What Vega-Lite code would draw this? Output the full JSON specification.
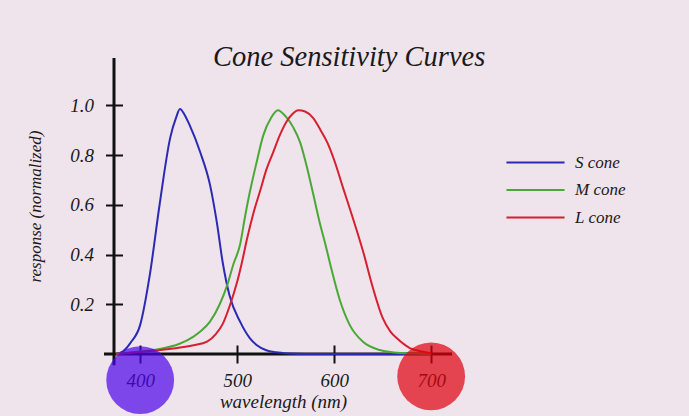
{
  "$schema": "https://vega.github.io/schema/vega-lite/v6.json",
  "autosize": {"type": "none"},
  "padding": {"left": 114, "top": 58, "right": 237, "bottom": 62},
  "width": 338,
  "height": 296,
  "background": "#efe3ec",
  "config": {
    "view": {"stroke": null},
    "font": "Liberation Serif"
  },
  "title": {
    "text": "Cone Sensitivity Curves",
    "anchor": "start",
    "frame": "group",
    "dx": 99,
    "dy": 38,
    "offset": 0,
    "baseline": "alphabetic",
    "font": "Liberation Serif",
    "fontStyle": "italic",
    "fontWeight": "normal",
    "fontSize": 28.5,
    "color": "#1a1a1a"
  },
  "datasets": {
    "curves": [
      {"wavelength": 375, "response": 0.0, "cone": "S cone"},
      {"wavelength": 382, "response": 0.01, "cone": "S cone"},
      {"wavelength": 390, "response": 0.045, "cone": "S cone"},
      {"wavelength": 400, "response": 0.117, "cone": "S cone"},
      {"wavelength": 410, "response": 0.32, "cone": "S cone"},
      {"wavelength": 420, "response": 0.6, "cone": "S cone"},
      {"wavelength": 431, "response": 0.87, "cone": "S cone"},
      {"wavelength": 437, "response": 0.95, "cone": "S cone"},
      {"wavelength": 441, "response": 0.985, "cone": "S cone"},
      {"wavelength": 446, "response": 0.96, "cone": "S cone"},
      {"wavelength": 451, "response": 0.92, "cone": "S cone"},
      {"wavelength": 462, "response": 0.81, "cone": "S cone"},
      {"wavelength": 472, "response": 0.68, "cone": "S cone"},
      {"wavelength": 479, "response": 0.53, "cone": "S cone"},
      {"wavelength": 485, "response": 0.37, "cone": "S cone"},
      {"wavelength": 492, "response": 0.237, "cone": "S cone"},
      {"wavelength": 503, "response": 0.13, "cone": "S cone"},
      {"wavelength": 513, "response": 0.064, "cone": "S cone"},
      {"wavelength": 520, "response": 0.036, "cone": "S cone"},
      {"wavelength": 530, "response": 0.015, "cone": "S cone"},
      {"wavelength": 540, "response": 0.007, "cone": "S cone"},
      {"wavelength": 554, "response": 0.002, "cone": "S cone"},
      {"wavelength": 570, "response": 0.0, "cone": "S cone"},
      {"wavelength": 620, "response": 0.0, "cone": "S cone"},
      {"wavelength": 700, "response": 0.0, "cone": "S cone"},

      {"wavelength": 375, "response": 0.0, "cone": "M cone"},
      {"wavelength": 400, "response": 0.01, "cone": "M cone"},
      {"wavelength": 420, "response": 0.02, "cone": "M cone"},
      {"wavelength": 440, "response": 0.04, "cone": "M cone"},
      {"wavelength": 455, "response": 0.07, "cone": "M cone"},
      {"wavelength": 462, "response": 0.09, "cone": "M cone"},
      {"wavelength": 472, "response": 0.13, "cone": "M cone"},
      {"wavelength": 482, "response": 0.2, "cone": "M cone"},
      {"wavelength": 490, "response": 0.28, "cone": "M cone"},
      {"wavelength": 496, "response": 0.36, "cone": "M cone"},
      {"wavelength": 503, "response": 0.44, "cone": "M cone"},
      {"wavelength": 508, "response": 0.55, "cone": "M cone"},
      {"wavelength": 513, "response": 0.65, "cone": "M cone"},
      {"wavelength": 520, "response": 0.77, "cone": "M cone"},
      {"wavelength": 527, "response": 0.88, "cone": "M cone"},
      {"wavelength": 535, "response": 0.95, "cone": "M cone"},
      {"wavelength": 542, "response": 0.98, "cone": "M cone"},
      {"wavelength": 550, "response": 0.955, "cone": "M cone"},
      {"wavelength": 558, "response": 0.91, "cone": "M cone"},
      {"wavelength": 565, "response": 0.85, "cone": "M cone"},
      {"wavelength": 572, "response": 0.75, "cone": "M cone"},
      {"wavelength": 578, "response": 0.65, "cone": "M cone"},
      {"wavelength": 585, "response": 0.53, "cone": "M cone"},
      {"wavelength": 591, "response": 0.44, "cone": "M cone"},
      {"wavelength": 596, "response": 0.36, "cone": "M cone"},
      {"wavelength": 606, "response": 0.215, "cone": "M cone"},
      {"wavelength": 616, "response": 0.117, "cone": "M cone"},
      {"wavelength": 630, "response": 0.048, "cone": "M cone"},
      {"wavelength": 647, "response": 0.016, "cone": "M cone"},
      {"wavelength": 668, "response": 0.004, "cone": "M cone"},
      {"wavelength": 700, "response": 0.0, "cone": "M cone"},

      {"wavelength": 375, "response": 0.0, "cone": "L cone"},
      {"wavelength": 400, "response": 0.008, "cone": "L cone"},
      {"wavelength": 430, "response": 0.02, "cone": "L cone"},
      {"wavelength": 455, "response": 0.035, "cone": "L cone"},
      {"wavelength": 469, "response": 0.05, "cone": "L cone"},
      {"wavelength": 478, "response": 0.08, "cone": "L cone"},
      {"wavelength": 485, "response": 0.12, "cone": "L cone"},
      {"wavelength": 492, "response": 0.19, "cone": "L cone"},
      {"wavelength": 500, "response": 0.29, "cone": "L cone"},
      {"wavelength": 505, "response": 0.37, "cone": "L cone"},
      {"wavelength": 510, "response": 0.46, "cone": "L cone"},
      {"wavelength": 517, "response": 0.57, "cone": "L cone"},
      {"wavelength": 524, "response": 0.66, "cone": "L cone"},
      {"wavelength": 530, "response": 0.74, "cone": "L cone"},
      {"wavelength": 537, "response": 0.81, "cone": "L cone"},
      {"wavelength": 544, "response": 0.88, "cone": "L cone"},
      {"wavelength": 551, "response": 0.935, "cone": "L cone"},
      {"wavelength": 557, "response": 0.965, "cone": "L cone"},
      {"wavelength": 563, "response": 0.98, "cone": "L cone"},
      {"wavelength": 570, "response": 0.975, "cone": "L cone"},
      {"wavelength": 578, "response": 0.95, "cone": "L cone"},
      {"wavelength": 586, "response": 0.9, "cone": "L cone"},
      {"wavelength": 593, "response": 0.85, "cone": "L cone"},
      {"wavelength": 600, "response": 0.78, "cone": "L cone"},
      {"wavelength": 609, "response": 0.67, "cone": "L cone"},
      {"wavelength": 619, "response": 0.55, "cone": "L cone"},
      {"wavelength": 630, "response": 0.41, "cone": "L cone"},
      {"wavelength": 640, "response": 0.265, "cone": "L cone"},
      {"wavelength": 650, "response": 0.145, "cone": "L cone"},
      {"wavelength": 658, "response": 0.09, "cone": "L cone"},
      {"wavelength": 665, "response": 0.062, "cone": "L cone"},
      {"wavelength": 678, "response": 0.024, "cone": "L cone"},
      {"wavelength": 690, "response": 0.01, "cone": "L cone"},
      {"wavelength": 700, "response": 0.003, "cone": "L cone"}
    ],
    "highlights": [
      {"wavelength": 400, "level": -0.105, "band": "violet"},
      {"wavelength": 700, "level": -0.09, "band": "red"}
    ]
  },
  "layer": [
    {
      "data": {"values": [{}]},
      "mark": {"type": "rule", "color": "#111111", "strokeWidth": 3},
      "encoding": {
        "x": {"datum": 373, "type": "quantitative"},
        "y": {"datum": -0.045, "type": "quantitative"},
        "y2": {"datum": 1.19}
      }
    },
    {
      "data": {"values": [{}]},
      "mark": {"type": "rule", "color": "#111111", "strokeWidth": 3},
      "encoding": {
        "y": {"datum": 0, "type": "quantitative"},
        "x": {"datum": 362.7, "type": "quantitative"},
        "x2": {"datum": 721.5}
      }
    },
    {
      "data": {"name": "curves"},
      "mark": {"type": "line", "strokeWidth": 2, "interpolate": "monotone", "clip": false},
      "encoding": {
        "x": {
          "field": "wavelength",
          "type": "quantitative",
          "scale": {"domain": [373, 721.5], "nice": false, "zero": false},
          "axis": {
            "values": [400, 500, 600, 700],
            "format": "d",
            "grid": false,
            "domain": false,
            "offset": -9,
            "tickSize": 18,
            "tickWidth": 2,
            "tickColor": "#111111",
            "labelPadding": 8,
            "labelFont": "Liberation Serif",
            "labelFontStyle": "italic",
            "labelFontSize": 19,
            "labelColor": "#1a1a1a",
            "title": "wavelength (nm)",
            "titleFont": "Liberation Serif",
            "titleFontStyle": "italic",
            "titleFontWeight": "normal",
            "titleFontSize": 19,
            "titleColor": "#1a1a1a",
            "titlePadding": 2
          }
        },
        "y": {
          "field": "response",
          "type": "quantitative",
          "scale": {"domain": [0, 1.19], "nice": false, "zero": false},
          "axis": {
            "values": [0.2, 0.4, 0.6, 0.8, 1.0],
            "format": ".1f",
            "grid": false,
            "domain": false,
            "offset": -8.5,
            "tickSize": 17,
            "tickWidth": 2,
            "tickColor": "#111111",
            "labelPadding": 12,
            "labelFont": "Liberation Serif",
            "labelFontStyle": "italic",
            "labelFontSize": 19,
            "labelColor": "#1a1a1a",
            "title": "response (normalized)",
            "titleFont": "Liberation Serif",
            "titleFontStyle": "italic",
            "titleFontWeight": "normal",
            "titleFontSize": 17,
            "titleColor": "#1a1a1a",
            "titlePadding": 25
          }
        },
        "color": {
          "field": "cone",
          "type": "nominal",
          "sort": ["S cone", "M cone", "L cone"],
          "scale": {"domain": ["S cone", "M cone", "L cone"], "range": ["#2a2ab4", "#4aa936", "#d6202f"]},
          "legend": {
            "title": null,
            "orient": "none",
            "legendX": 413,
            "legendY": 96,
            "symbolType": "M-5,0H5",
            "symbolSize": 135,
            "symbolStrokeWidth": 2,
            "labelOffset": 31,
            "rowPadding": 9.5,
            "labelFont": "Liberation Serif",
            "labelFontStyle": "italic",
            "labelFontSize": 17,
            "labelColor": "#1a1a1a"
          }
        }
      }
    },
    {
      "data": {"name": "highlights"},
      "mark": {"type": "point", "filled": true, "opacity": 0.7, "clip": false},
      "encoding": {
        "x": {"field": "wavelength", "type": "quantitative"},
        "y": {"field": "level", "type": "quantitative"},
        "size": {"value": 4600},
        "color": {
          "field": "band",
          "type": "nominal",
          "scale": {"domain": ["violet", "red"], "range": ["#4c03ea", "#df000d"]},
          "legend": null
        }
      }
    }
  ],
  "resolve": {"scale": {"color": "independent"}}
}
